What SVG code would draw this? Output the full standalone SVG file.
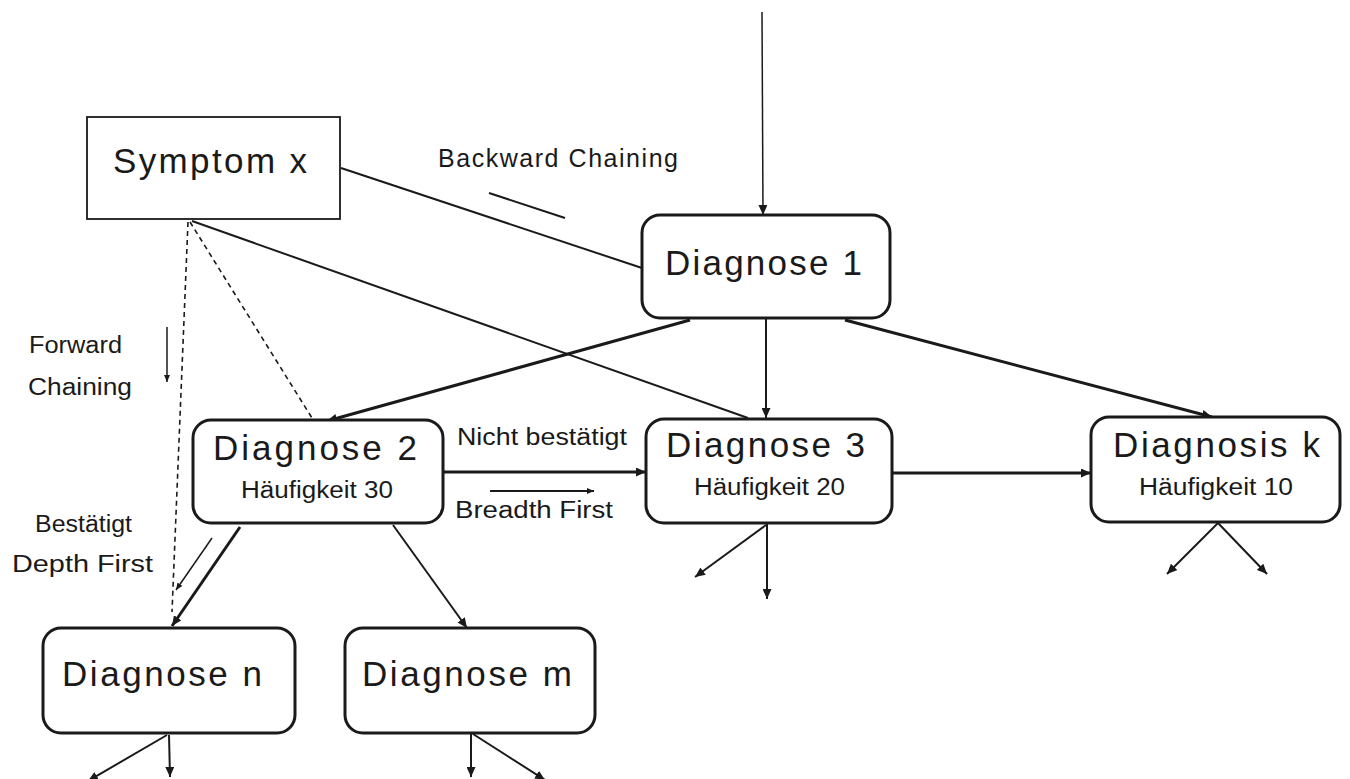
<svg xmlns="http://www.w3.org/2000/svg" width="1350" height="779" viewBox="0 0 1350 779">
  <defs>
    <style>
      .box { fill: #fff; stroke: #1a1a1a; stroke-width: 3; }
      .big { font-family: "Liberation Sans", Arial, sans-serif; font-size: 35px; fill: #1a1a1a; }
      .small { font-family: "Liberation Sans", Arial, sans-serif; font-size: 23px; fill: #1a1a1a; }
      .label-lg { font-size: 25px; }
      .thick { stroke: #1a1a1a; stroke-width: 3; fill: none; }
      .thin { stroke: #1a1a1a; stroke-width: 2; fill: none; }
      .hair { stroke: #1a1a1a; stroke-width: 1.5; fill: none; }
      .dash { stroke: #1a1a1a; stroke-width: 1.6; fill: none; stroke-dasharray: 5 4; }
    </style>
    <marker id="arr" markerUnits="userSpaceOnUse" markerWidth="11" markerHeight="9" refX="10" refY="4.5" orient="auto">
      <path d="M0,0 L10,4.5 L0,9 z" fill="#1a1a1a"/>
    </marker>
    <marker id="arrS" markerUnits="userSpaceOnUse" markerWidth="8" markerHeight="6" refX="7" refY="3" orient="auto">
      <path d="M0,0 L7,3 L0,6 z" fill="#1a1a1a"/>
    </marker>
  </defs>
  <rect width="1350" height="779" fill="#fff"/>

  <!-- connectors -->
  <g id="connectors">
    <!-- entry into Diagnose 1 -->
    <line class="hair" x1="762" y1="12" x2="763" y2="215" marker-end="url(#arr)"/>
    <!-- symptom links -->
    <line class="thin" x1="341" y1="168" x2="642" y2="268"/>
    <line class="thin" x1="192" y1="221" x2="748" y2="418"/>
    <line class="dash" x1="190" y1="222" x2="312" y2="418"/>
    <line class="dash" x1="188" y1="222" x2="172" y2="612"/>
    <!-- Diagnose 1 branches -->
    <line class="thick" x1="690" y1="320" x2="327" y2="421" marker-end="url(#arr)"/>
    <line class="thin" x1="766" y1="319" x2="766" y2="418" marker-end="url(#arr)"/>
    <line class="thick" x1="845" y1="320" x2="1212" y2="417" marker-end="url(#arr)"/>
    <!-- Diagnose 2 -> 3 -> k -->
    <line class="thick" x1="443" y1="472" x2="646" y2="472" marker-end="url(#arr)"/>
    <line class="thick" x1="892" y1="473" x2="1091" y2="473" marker-end="url(#arr)"/>
    <!-- Diagnose 2 children -->
    <line class="thick" x1="240" y1="527" x2="172" y2="626" marker-end="url(#arr)"/>
    <line class="thin" x1="393" y1="525" x2="467" y2="628" marker-end="url(#arr)"/>
    <!-- Diagnose 3 children -->
    <line class="thin" x1="767" y1="524" x2="767" y2="599" marker-end="url(#arr)"/>
    <line class="thin" x1="766" y1="525" x2="695" y2="577" marker-end="url(#arr)"/>
    <!-- Diagnosis k children -->
    <line class="thin" x1="1218" y1="523" x2="1167" y2="574" marker-end="url(#arr)"/>
    <line class="thin" x1="1218" y1="523" x2="1267" y2="574" marker-end="url(#arr)"/>
    <!-- Diagnose n children -->
    <line class="thin" x1="169" y1="735" x2="170" y2="777" marker-end="url(#arr)"/>
    <line class="thin" x1="167" y1="735" x2="88" y2="781" marker-end="url(#arr)"/>
    <!-- Diagnose m children -->
    <line class="thin" x1="471" y1="734" x2="471" y2="777" marker-end="url(#arr)"/>
    <line class="thin" x1="473" y1="734" x2="545" y2="780" marker-end="url(#arr)"/>
    <!-- direction hints -->
    <line class="thin" x1="565" y1="218" x2="489" y2="193"/>
    <line class="hair" x1="167" y1="327" x2="167" y2="382" marker-end="url(#arrS)"/>
    <line class="thin" x1="490" y1="491" x2="594" y2="491" marker-end="url(#arrS)"/>
    <line class="hair" x1="212" y1="538" x2="176" y2="590" marker-end="url(#arrS)"/>
  </g>

  <!-- nodes -->
  <g id="symptom-x">
    <rect x="87" y="117" width="253" height="102" fill="#fff" stroke="#1a1a1a" stroke-width="1.8"/>
    <text class="big" x="113" y="173" textLength="194" lengthAdjust="spacing">Symptom x</text>
  </g>
  <g id="diagnose-1">
    <rect class="box" x="642" y="215" width="248" height="103" rx="18"/>
    <text class="big" x="665" y="275" textLength="197" lengthAdjust="spacing">Diagnose 1</text>
  </g>
  <g id="diagnose-2">
    <rect class="box" x="193" y="420" width="250" height="103" rx="18"/>
    <text class="big" x="213" y="460" textLength="204" lengthAdjust="spacing">Diagnose 2</text>
    <text class="small" x="241" y="498" textLength="152" lengthAdjust="spacingAndGlyphs">Häufigkeit 30</text>
  </g>
  <g id="diagnose-3">
    <rect class="box" x="646" y="419" width="246" height="104" rx="18"/>
    <text class="big" x="666" y="457" textLength="199" lengthAdjust="spacing">Diagnose 3</text>
    <text class="small" x="694" y="495" textLength="151" lengthAdjust="spacingAndGlyphs">Häufigkeit 20</text>
  </g>
  <g id="diagnosis-k">
    <rect class="box" x="1091" y="417" width="249" height="105" rx="18"/>
    <text class="big" x="1113" y="457" textLength="207" lengthAdjust="spacing">Diagnosis k</text>
    <text class="small" x="1139" y="495" textLength="154" lengthAdjust="spacingAndGlyphs">Häufigkeit 10</text>
  </g>
  <g id="diagnose-n">
    <rect class="box" x="43" y="628" width="252" height="105" rx="18"/>
    <text class="big" x="62" y="686" textLength="200" lengthAdjust="spacing">Diagnose n</text>
  </g>
  <g id="diagnose-m">
    <rect class="box" x="345" y="628" width="250" height="105" rx="18"/>
    <text class="big" x="362" y="686" textLength="210" lengthAdjust="spacing">Diagnose m</text>
  </g>

  <!-- labels -->
  <g id="labels">
    <text class="small label-lg" x="438" y="167" textLength="240" lengthAdjust="spacing">Backward  Chaining</text>
    <text class="small" x="29" y="353" textLength="93" lengthAdjust="spacingAndGlyphs">Forward</text>
    <text class="small" x="28" y="395" textLength="104" lengthAdjust="spacingAndGlyphs">Chaining</text>
    <text class="small" x="457" y="445" textLength="170" lengthAdjust="spacingAndGlyphs">Nicht bestätigt</text>
    <text class="small" x="455" y="518" textLength="158" lengthAdjust="spacingAndGlyphs">Breadth  First</text>
    <text class="small" x="35" y="532" textLength="97" lengthAdjust="spacingAndGlyphs">Bestätigt</text>
    <text class="small" x="12" y="572" textLength="141" lengthAdjust="spacingAndGlyphs">Depth  First</text>
  </g>
</svg>
